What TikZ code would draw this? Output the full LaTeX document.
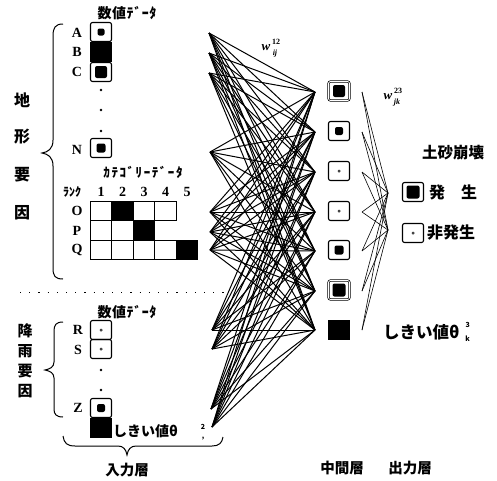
\documentclass[tikz,border=0pt]{standalone}
\usepackage{fontspec}
\setmainfont{Liberation Serif}
\newfontfamily\cjk{Noto Sans CJK JP}
\begin{document}
\begin{tikzpicture}[x=1pt,y=-1pt,
 every node/.style={inner sep=0pt, outer sep=0pt},
 jpf/.style={font=\cjk\bfseries\fontsize{#1}{#1}\selectfont},
 ltf/.style={font=\bfseries\fontsize{#1}{#1}\selectfont},
 ubox/.style={draw, line width=1.1pt, rounded corners=2pt, minimum width=21pt, minimum height=19pt,
   path picture={\fill ([shift={(-#1/2,-#1/2)}]path picture bounding box.center) rectangle ([shift={(#1/2,#1/2)}]path picture bounding box.center);}},
 dubox/.style={ubox=#1, line width=0.7pt, double, double distance=0.8pt},
 fullbox/.style={fill, draw, line width=0.5pt, minimum width=21pt, minimum height=19pt},
 cell/.style={draw, line width=1.1pt, minimum width=21.5pt, minimum height=19.5pt},
 fcell/.style={cell, fill},
 net/.style={line width=1pt},
 net2/.style={line width=0.6pt},
 br/.style={line width=1pt}]
\useasboundingbox (0,0) rectangle (497,480);

% ---------- input column (terrain, numeric) ----------
\node[jpf=14] (tnum1) at (127,13) {\addfontfeature{LetterSpace=4}数値ﾃﾞｰﾀ};
\node[ubox=7]  (bA) at (101,32) {};
\node[fullbox] (bB) at (101,52) {};
\node[ubox=12] (bC) at (101,72) {};
\node[ubox=9]  (bN) at (101,148) {};
\fill (101,90) circle (1.3) (101,110) circle (1.3) (101,131) circle (1.3);
\node[ltf=14] (lA) at (77,33) {A};
\node[ltf=14] (lB) at (77,52) {B};
\node[ltf=14] (lC) at (77,72) {C};
\node[ltf=14] (lN) at (77,150) {N};

% ---------- categorical ----------
\node[jpf=13] (tcat) at (143,172) {\addfontfeature{LetterSpace=12}ｶﾃｺﾞﾘｰﾃﾞｰﾀ};
\node[jpf=12] (trank) at (72,192) {ﾗﾝｸ};
\foreach \x/\n in {101/1,122.5/2,144/3,165.5/4,187/5}{\node[ltf=14] (num\n) at (\x,192) {\n};}
\node[cell]  (cO1) at (101,211) {};
\node[fcell] (cO2) at (122.5,211) {};
\node[cell]  (cO3) at (144,211) {};
\node[cell]  (cO4) at (165.5,211) {};
\node[cell]  (cP1) at (101,230.5) {};
\node[cell]  (cP2) at (122.5,230.5) {};
\node[fcell] (cP3) at (144,230.5) {};
\node[cell]  (cQ1) at (101,250) {};
\node[cell]  (cQ2) at (122.5,250) {};
\node[cell]  (cQ3) at (144,250) {};
\node[cell]  (cQ4) at (165.5,250) {};
\node[fcell] (cQ5) at (187,250) {};
\node[ltf=14] (lO) at (77,211) {O};
\node[ltf=14] (lP) at (77,231) {P};
\node[ltf=14] (lQ) at (77,250) {Q};

% ---------- left labels and braces ----------
\node[jpf=16] (k1) at (22,100) {地};
\node[jpf=16] (k2) at (22,137) {形};
\node[jpf=16] (k3) at (22,175) {要};
\node[jpf=16] (k4) at (22,213) {因};
\draw[br] (63,24) .. controls (55,24) and (53,28) .. (53,36) -- (53,140) .. controls (53,149) and (48,152) .. (42,153) .. controls (48,154) and (53,157) .. (53,166) -- (53,268) .. controls (53,276) and (55,279) .. (63,279);

\draw[line width=1pt, dash pattern=on 1.2pt off 8pt] (20,292) -- (225,292);

% ---------- rainfall ----------
\node[jpf=14] (tnum2) at (127,312) {\addfontfeature{LetterSpace=4}数値ﾃﾞｰﾀ};
\node[ubox=2.5] (bR) at (101,330) {};
\node[ubox=2.5] (bS) at (101,349) {};
\fill (101,370) circle (1.3) (101,390) circle (1.3);
\node[ubox=8]  (bZ) at (101,408) {};
\node[fullbox] (bT) at (101,428) {};
\node[ltf=14] (lR) at (78,330) {R};
\node[ltf=14] (lS) at (78,350) {S};
\node[ltf=14] (lZ) at (78,408) {Z};
\node[jpf=15] (r1) at (25,331) {降};
\node[jpf=15] (r2) at (25,351) {雨};
\node[jpf=15] (r3) at (25,371) {要};
\node[jpf=15] (r4) at (25,391) {因};
\draw[br] (63,322) .. controls (56,322) and (54,325) .. (54,331) -- (54,362) .. controls (54,367) and (50,369) .. (45,370) .. controls (50,371) and (54,373) .. (54,378) -- (54,409) .. controls (54,414) and (56,417) .. (63,417);
\node[jpf=14, anchor=west] (th2) at (113,432) {しきい値\textit{θ}\hspace{23pt}\raisebox{-2pt}{\fontsize{7}{7}\selectfont\bfseries\shortstack{2\\[4pt],}}};

\draw[br] (63,436) .. controls (64,443) and (67,446) .. (75,446) -- (118,446) .. controls (123,446) and (126,449) .. (127,455) .. controls (128,449) and (131,446) .. (136,446) -- (212,446) .. controls (219,446) and (222,443) .. (223,437);
\node[jpf=14.5] (in) at (127,470) {入力層};

% ---------- hidden ----------
\node[dubox=12] (h1) at (339,91) {};
\node[ubox=8]   (h2) at (339,131) {};
\node[ubox=2.5] (h3) at (339,171) {};
\node[ubox=2.5] (h4) at (339,211) {};
\node[ubox=9]   (h5) at (339,250) {};
\node[dubox=13] (h6) at (339,290) {};
\node[fullbox]  (h7) at (339,330) {};
\node[jpf=16.5, anchor=west] (th3) at (383,332) {しきい値\textit{θ}\hspace{6pt}\raisebox{-3pt}{\fontsize{7}{7}\selectfont\bfseries\shortstack{3\\[5pt]\textit{k}}}};
\node[jpf=14.5] (mid) at (342,468) {中間層};

% ---------- output ----------
\node[jpf=15.5] (ts) at (453,153) {土砂崩壊};
\node[ubox=13]  (y1) at (413,192) {};
\node[ubox=2.5] (y2) at (413,233) {};
\node[jpf=16, anchor=west] (ty1) at (429,192) {発　生};
\node[jpf=16, anchor=west] (ty2) at (427,233) {非発生};
\node[jpf=14.5] (outl) at (410,468) {出力層};

% ---------- weights ----------
\node[ltf=13] (wa) at (266,48) {\textit{w}};
\node[ltf=8] (wa1) at (276,42) {12};
\node[ltf=8] (wa2) at (275,54) {\textit{ij}};
\node[ltf=13] (wb) at (388,97) {\textit{w}};
\node[ltf=8] (wb1) at (398,91) {23};
\node[ltf=8] (wb2) at (397,103) {\textit{jk}};

% ---------- connection points ----------
\coordinate (pA) at (209,33);
\coordinate (pB) at (209,53);
\coordinate (pC) at (209,73);
\coordinate (pN) at (210,152);
\coordinate (pO) at (210,212);
\coordinate (pP) at (210,232);
\coordinate (pQ) at (210,250);
\coordinate (pR) at (212,330);
\coordinate (pS) at (212,349);
\coordinate (pZ) at (211,409);
\coordinate (pT) at (212,427);
\foreach \j/\y in {1/92,2/132,3/172,4/212,5/251,6/291,7/330}{
  \coordinate (ql\j) at (315,\y);
  \coordinate (qr\j) at (362,\y);
}
\coordinate (o1) at (388,193);
\coordinate (o2) at (388,230);

\foreach \i in {A,B,C,N,O,P,Q,R,S,Z,T}{
  \foreach \j in {1,...,7}{\draw[net] (p\i) -- (ql\j);}
}
\foreach \j in {1,...,7}{
  \foreach \k in {1,2}{\draw[net2] (qr\j) -- (o\k);}
}
\end{tikzpicture}
\end{document}
